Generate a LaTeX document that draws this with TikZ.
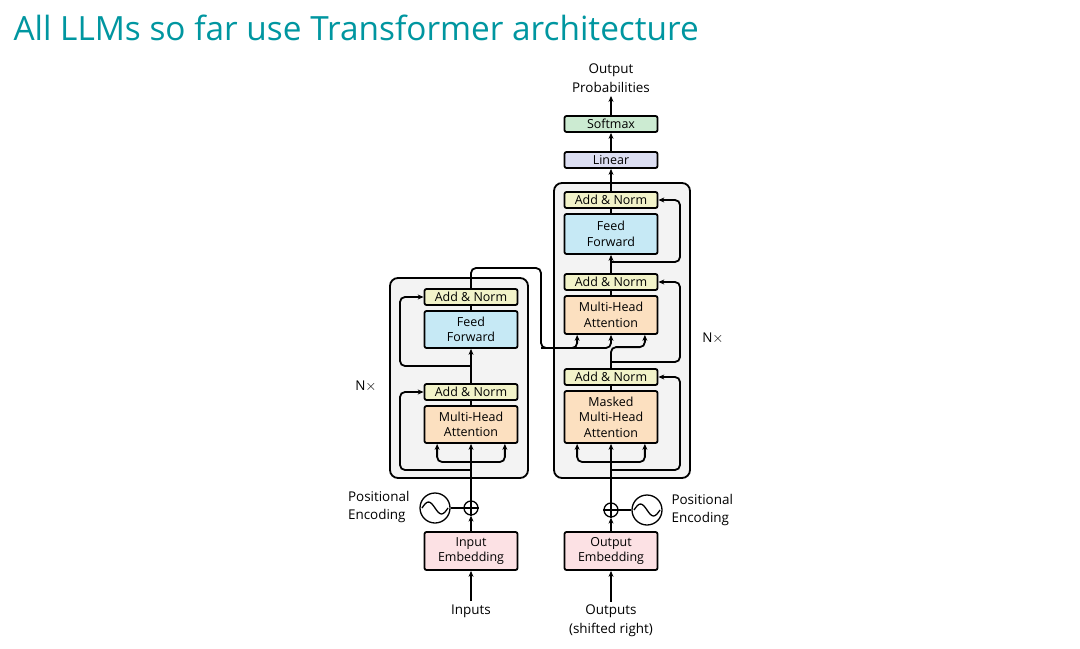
\documentclass[tikz,border=0pt]{standalone}
\usepackage{fontspec}
\setmainfont{Open Sans}
\usetikzlibrary{arrows.meta,calc}
\definecolor{titleteal}{RGB}{0,150,160}
\definecolor{normcol}{HTML}{F2F3C9}
\definecolor{ffcol}{HTML}{C6E9F5}
\definecolor{attcol}{HTML}{FCE0C0}
\definecolor{embcol}{HTML}{FCE1E4}
\definecolor{lincol}{HTML}{DCDEF2}
\definecolor{smcol}{HTML}{CCEBD2}
\definecolor{layercol}{HTML}{F3F3F3}
\begin{document}
\begin{tikzpicture}
    [
    x=1bp, y=-1bp,
    blk/.style={draw, line width=1.8pt, rounded corners=2pt, minimum width=93bp, align=center, inner sep=0pt, font=\fontsize{12.5}{15.5}\selectfont},
    layer/.style={draw, line width=1.8pt, rounded corners=8pt, fill=layercol},
    arrow/.style={-{Stealth[length=6pt,width=5pt]}, line width=1.8pt, rounded corners=5pt},
    wire/.style={line width=1.8pt, rounded corners=5pt},
    label/.style={font=\fontsize{13.5}{19}\selectfont, align=center},
    plus/.style={draw, circle, line width=1.3pt, minimum size=14bp, inner sep=0pt},
    sine/.style={draw, circle, line width=1.3pt, minimum size=30bp, inner sep=0pt}
    ]
    \useasboundingbox (0,0) rectangle (1080,649);

% Title
    \node[anchor=west, text=titleteal, font=\fontsize{33.5}{38}\selectfont] (title) at (10,28) {All LLMs so far use Transformer architecture};

% Layers
    \node[layer, minimum width=138bp, minimum height=200bp] (enc) at (459,378) {};
    \node[layer, minimum width=136bp, minimum height=295bp] (dec) at (622,330.5) {};

% Encoder
    \node[blk, fill=normcol, minimum height=16bp] (ean2) at (471,297) {Add \& Norm};
    \node[blk, fill=ffcol, minimum height=37bp] (eff) at (471,329.5) {Feed\\Forward};
    \node[blk, fill=normcol, minimum height=16bp] (ean1) at (471,392) {Add \& Norm};
    \node[blk, fill=attcol, minimum height=37bp] (emha) at (471,424.5) {Multi-Head\\Attention};
    \node[blk, fill=embcol, minimum height=38bp] (eemb) at (471,551) {Input\\Embedding};
    \node[plus] (eplus) at (471,508) {};
    \node[sine] (esine) at (435,508) {};
    \node[label, anchor=east, align=left] (epos) at (413,507) {Positional\\Encoding};
    \node[label] (inputs) at (471,611) {Inputs};
    \node[label] (enx) at (366,386) {N$\times$};

% Decoder
    \node[blk, fill=smcol, minimum height=16bp] (softmax) at (611,124) {Softmax};
    \node[blk, fill=lincol, minimum height=16bp] (linear) at (611,160) {Linear};
    \node[blk, fill=normcol, minimum height=16bp] (dan3) at (611,200) {Add \& Norm};
    \node[blk, fill=ffcol, minimum height=40bp] (dff) at (611,234) {Feed\\Forward};
    \node[blk, fill=normcol, minimum height=16bp] (dan2) at (611,282) {Add \& Norm};
    \node[blk, fill=attcol, minimum height=38bp] (dmha) at (611,315) {Multi-Head\\Attention};
    \node[blk, fill=normcol, minimum height=16bp] (dan1) at (611,377) {Add \& Norm};
    \node[blk, fill=attcol, minimum height=52bp] (dmmha) at (611,417) {Masked\\Multi-Head\\Attention};
    \node[blk, fill=embcol, minimum height=38bp] (demb) at (611,551) {Output\\Embedding};
    \node[plus] (dplus) at (611,510) {};
    \node[sine] (dsine) at (647,510) {};
    \node[label, anchor=west, align=left] (dpos) at (668,510) {Positional\\Encoding};
    \node[label] (outputs) at (611,621) {Outputs\\(shifted right)};
    \node[label] (outprob) at (611,78) {Output\\Probabilities};
    \node[label] (dnx) at (713,338) {N$\times$};

% Plus and sine symbols
    \foreach \p in {eplus, dplus} {
        \draw[line width=1.3pt] (\p.north) -- (\p.south) (\p.west) -- (\p.east);
    }
    \foreach \s in {esine, dsine} {
        \draw[line width=1.3pt] ($(\s)+(-13,0)$) sin ++(6.5,-6) cos ++(6.5,6) sin ++(6.5,6) cos ++(6.5,-6);
    }

% Encoder connectors
    \coordinate (ebr) at (471,462);
    \coordinate (eres1) at (471,470);
    \coordinate (eres2) at (471,366);
    \draw[arrow] (inputs) -- (eemb);
    \draw[arrow] (eemb) -- (eplus);
    \draw[wire] (esine) -- (eplus);
    \draw[arrow] (eplus) -- (emha);
    \draw[arrow] (ebr) -| ([xshift=-34]emha.south);
    \draw[arrow] (ebr) -| ([xshift=34]emha.south);
    \draw[arrow] (eres1) -- ++(-71,0) |- (ean1.west);
    \draw[wire] (emha) -- (ean1);
    \draw[arrow] (ean1) -- (eff);
    \draw[arrow] (eres2) -- ++(-71,0) |- (ean2.west);
    \draw[wire] (eff) -- (ean2);

% Encoder to decoder
    \coordinate (ckv) at (541,348);
    \draw[arrow] (ean2.north) |- ($(ckv)+(0,-80)$) -- (ckv) -| ([xshift=-34]dmha.south);
    \draw[arrow] (ckv) -| (dmha.south);

% Decoder connectors
    \coordinate (dbr) at (611,462);
    \coordinate (dres1) at (611,470);
    \coordinate (dres2) at (611,362);
    \coordinate (dres3) at (611,262);
    \draw[arrow] (outputs) -- (demb);
    \draw[arrow] (demb) -- (dplus);
    \draw[wire] (dsine) -- (dplus);
    \draw[arrow] (dplus) -- (dmmha);
    \draw[arrow] (dbr) -| ([xshift=-34]dmmha.south);
    \draw[arrow] (dbr) -| ([xshift=34]dmmha.south);
    \draw[arrow] (dres1) -- ++(69,0) |- (dan1.east);
    \draw[wire] (dmmha) -- (dan1);
    \draw[arrow] (dan1.north) -- ++(0,-21) -| ([xshift=34]dmha.south);
    \draw[arrow] (dres2) -- ++(69,0) |- (dan2.east);
    \draw[wire] (dmha) -- (dan2);
    \draw[arrow] (dan2) -- (dff);
    \draw[arrow] (dres3) -- ++(69,0) |- (dan3.east);
    \draw[wire] (dff) -- (dan3);
    \draw[arrow] (dan3) -- (linear);
    \draw[arrow] (linear) -- (softmax);
    \draw[arrow] (softmax) -- (outprob);

\end{tikzpicture}
\end{document}
